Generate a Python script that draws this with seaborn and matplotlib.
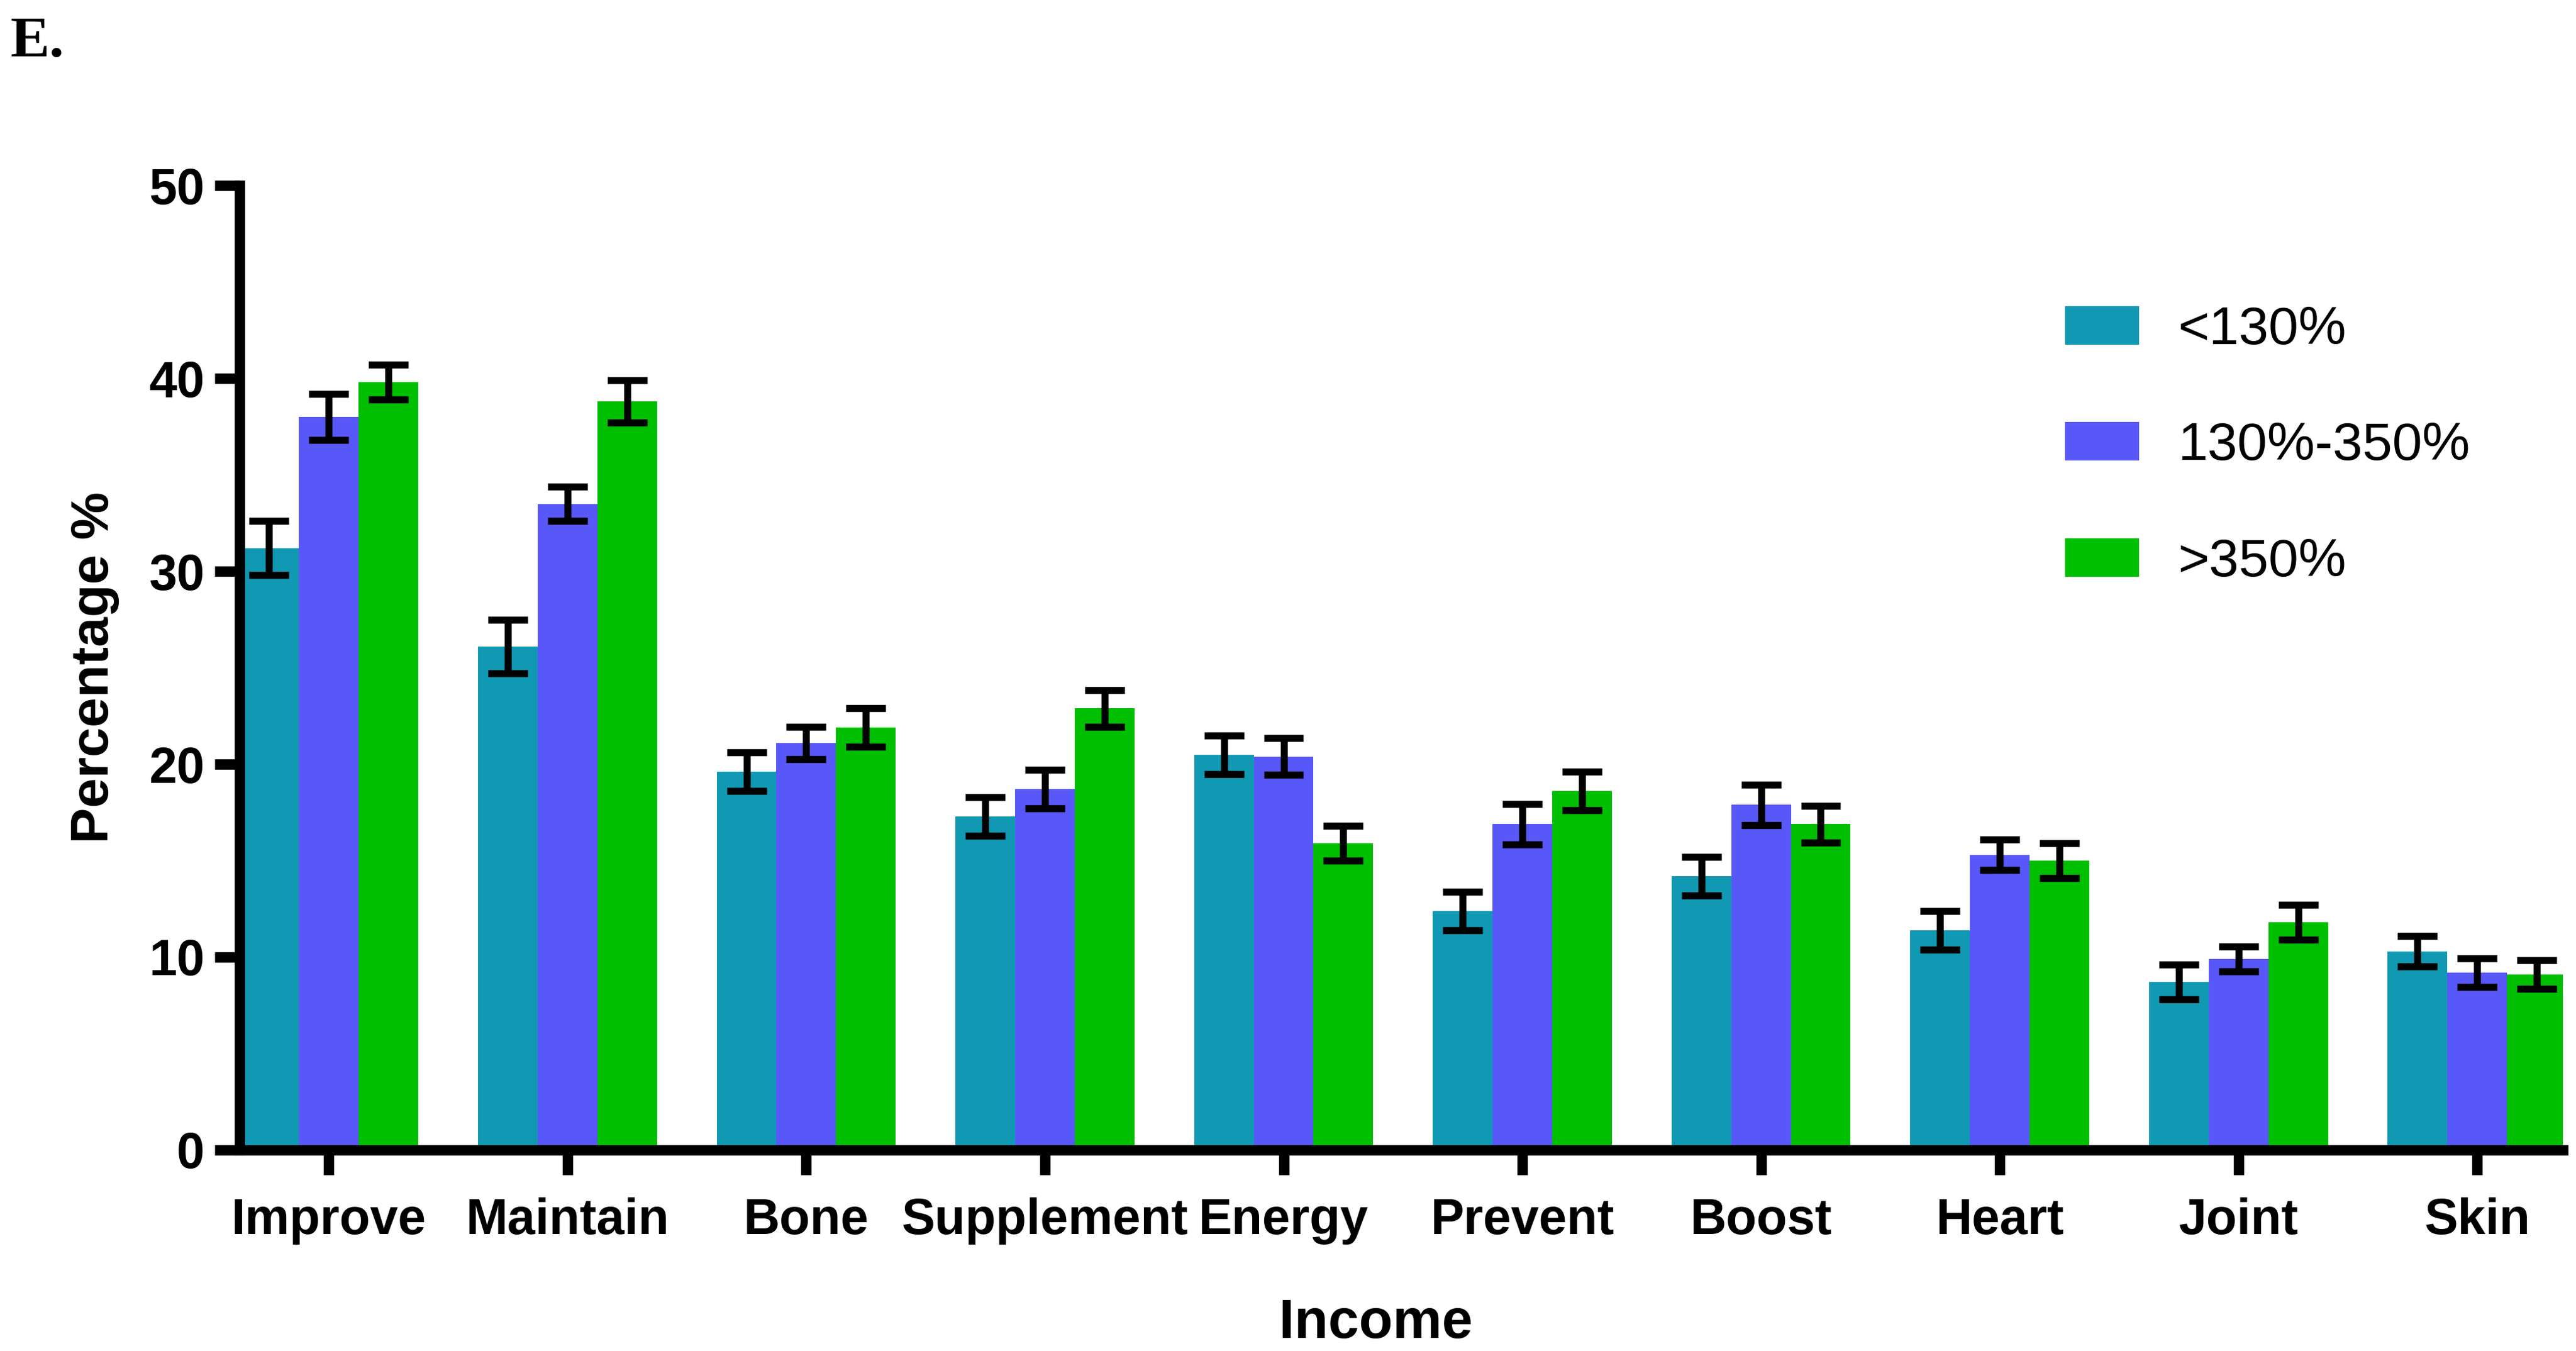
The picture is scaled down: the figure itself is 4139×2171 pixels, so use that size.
import numpy as np
import pandas as pd
import matplotlib as mpl
mpl.use('Agg')
import matplotlib.pyplot as plt
import seaborn as sns

categories = ['Improve', 'Maintain', 'Bone', 'Supplement', 'Energy',
              'Prevent', 'Boost', 'Heart', 'Joint', 'Skin']
groups = ['<130%', '130%-350%', '>350%']

low_vals = [31.2, 26.1, 19.6, 17.3, 20.5, 12.4, 14.2, 11.4, 8.7, 10.3]
mid_vals = [38.0, 33.5, 21.1, 18.7, 20.4, 16.9, 17.9, 15.3, 9.9, 9.2]
high_vals = [39.8, 38.8, 21.9, 22.9, 15.9, 18.6, 16.9, 15.0, 11.8, 9.1]

low_err = [1.4, 1.4, 1.0, 1.0, 1.0, 1.0, 1.0, 1.0, 0.9, 0.8]
mid_err = [1.2, 0.9, 0.85, 1.0, 0.95, 1.05, 1.05, 0.8, 0.65, 0.75]
high_err = [0.9, 1.1, 1.0, 0.95, 0.9, 1.0, 0.95, 0.9, 0.9, 0.75]

colors = ['#1199B4', '#5858F8', '#00BF00']

# two rows per bar (value -/+ error) so seaborn draws the mean and min-max bars
rows = []
for g, vals, errs in zip(groups, [low_vals, mid_vals, high_vals], [low_err, mid_err, high_err]):
    for c, v, e in zip(categories, vals, errs):
        rows.append({'Income': c, 'group': g, 'pct': v - e})
        rows.append({'Income': c, 'group': g, 'pct': v + e})
df = pd.DataFrame(rows)

sns.set_style('ticks')
plt.rcParams['font.family'] = ['Liberation Sans', 'DejaVu Sans']
plt.rcParams['text.color'] = 'black'
plt.rcParams['axes.labelcolor'] = 'black'
plt.rcParams['xtick.color'] = 'black'
plt.rcParams['ytick.color'] = 'black'
plt.rcParams['axes.edgecolor'] = 'black'

fig = plt.figure(figsize=(41.39, 21.71), dpi=100)
ax = fig.add_axes([0.0929, 0.1488, 0.9021, 0.7139])

sns.barplot(data=df, x='Income', y='pct', hue='group', order=categories,
            hue_order=groups, palette=colors, width=0.75, saturation=1,
            estimator='mean', errorbar=lambda x: (x.min(), x.max()),
            capsize=0.5, err_kws={'color': 'black', 'linewidth': 8.2,
                                  'solid_capstyle': 'butt'},
            linewidth=0, ax=ax)

ax.set_ylim(0, 50)
ax.set_xlim(-0.375, 9.36)
ax.set_yticks([0, 10, 20, 30, 40, 50])
sns.despine(ax=ax)
for s in ['left', 'bottom']:
    ax.spines[s].set_linewidth(12)
    ax.spines[s].set_capstyle('projecting')
ax.tick_params(axis='both', width=12, length=29, labelsize=58)
ax.tick_params(axis='y', pad=11)
ax.tick_params(axis='x', pad=26)
for lab in ax.get_xticklabels() + ax.get_yticklabels():
    lab.set_fontweight('bold')

ax.set_xlabel('Income', fontsize=64, fontweight='bold')
ax.xaxis.set_label_coords(0.489, -0.153)
ax.set_ylabel('Percentage %', fontsize=62, fontweight='bold', labelpad=34)

handles, labels = ax.get_legend_handles_labels()
ax.legend(handles, labels, loc='upper left', bbox_to_anchor=(0.8016, 0.774),
          bbox_transform=fig.transFigure, frameon=False, fontsize=62,
          handlelength=1.38, handleheight=0.73, handletextpad=0.73,
          labelspacing=1.24, borderpad=0, borderaxespad=0)

fig.text(0.004, 0.988, 'E.', fontsize=68, fontweight='bold',
         family=['Liberation Serif', 'DejaVu Serif'], va='top', ha='left')

fig.savefig('out.png', dpi=100)
